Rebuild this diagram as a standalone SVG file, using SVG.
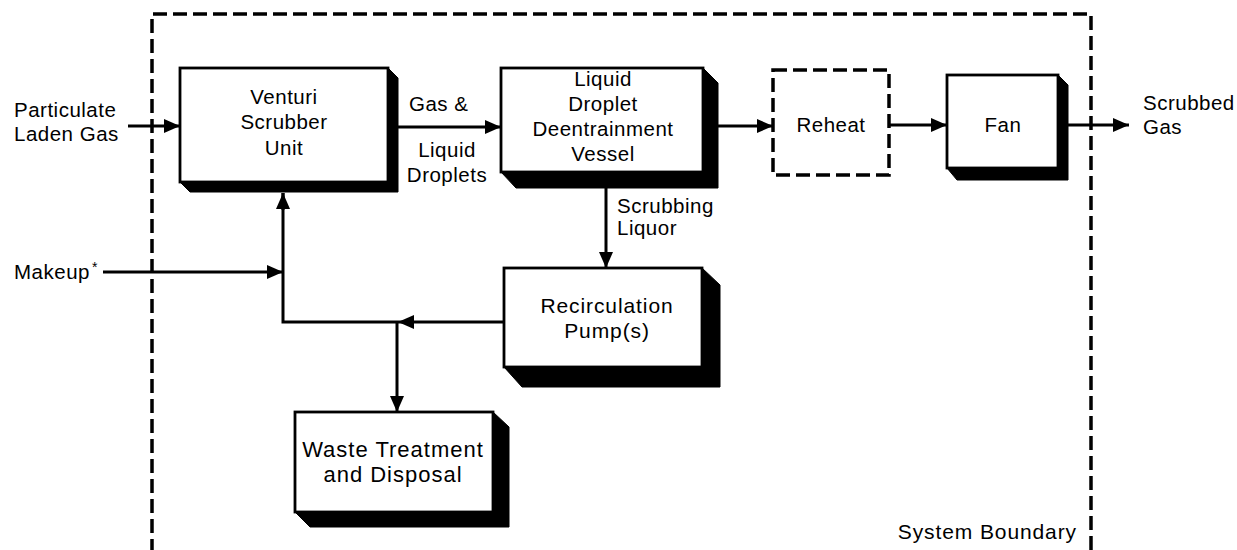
<svg xmlns="http://www.w3.org/2000/svg" width="1237" height="550" viewBox="0 0 1237 550">
  <style>
    text { font-family: "Liberation Sans", Arial, sans-serif; font-size: 20.5px; fill: #000; letter-spacing: 0.5px; }
    .c { text-anchor: middle; }
    .big { font-size: 21px; letter-spacing: 0.9px; }
    .bigger { font-size: 22px; letter-spacing: 1px; }
    .face { fill: #fff; stroke: #000; stroke-width: 2.8; }
    .shadow { fill: #000; stroke: #000; stroke-width: 1; stroke-linejoin: round; }
    .flow { fill: none; stroke: #000; stroke-width: 3; }
    .dash { fill: none; stroke: #000; stroke-width: 3.5; stroke-dasharray: 14 6; }
  </style>
  <defs>
    <marker id="arrow" markerUnits="userSpaceOnUse" markerWidth="16" markerHeight="16" viewBox="0 0 16 16" refX="16" refY="8" orient="auto">
      <path d="M0,1 L16,8 L0,15 Z" fill="#000"/>
    </marker>
  </defs>

  <rect width="1237" height="550" fill="#fff"/>

  <!-- system boundary -->
  <g id="boundary">
    <path class="dash" d="M152,553 L152,14 L1091,14 L1091,553"/>
    <text x="1077" y="539" text-anchor="end" class="big">System Boundary</text>
  </g>

  <!-- connectors -->
  <g id="connectors">
    <line class="flow" x1="128" y1="126" x2="180" y2="126" marker-end="url(#arrow)"/>
    <line class="flow" x1="398" y1="127" x2="501" y2="127" marker-end="url(#arrow)"/>
    <line class="flow" x1="718" y1="126" x2="773" y2="126" marker-end="url(#arrow)"/>
    <line class="flow" x1="889" y1="125" x2="947" y2="125" marker-end="url(#arrow)"/>
    <line class="flow" x1="1068" y1="125" x2="1129" y2="125" marker-end="url(#arrow)"/>
    <line class="flow" x1="606" y1="188" x2="606" y2="268" marker-end="url(#arrow)"/>
    <line class="flow" x1="504" y1="322" x2="398" y2="322" marker-end="url(#arrow)"/>
    <path class="flow" d="M398,322 L283,322 L283,193"/>
    <line class="flow" x1="283" y1="210" x2="283" y2="193" marker-end="url(#arrow)"/>
    <line class="flow" x1="103" y1="272" x2="283" y2="272" marker-end="url(#arrow)"/>
    <line class="flow" x1="397" y1="322" x2="397" y2="412" marker-end="url(#arrow)"/>
  </g>

  <!-- stream labels -->
  <g id="labels">
    <text x="14" y="117">Particulate</text>
    <text x="14" y="141">Laden Gas</text>
    <text x="409" y="111">Gas &amp;</text>
    <text x="447" y="157" class="c">Liquid</text>
    <text x="447" y="182" class="c">Droplets</text>
    <text x="1143" y="110">Scrubbed</text>
    <text x="1143" y="134">Gas</text>
    <text x="14" y="279">Makeup<tspan font-size="14" dy="-7" dx="2">*</tspan></text>
    <text x="617" y="213">Scrubbing</text>
    <text x="617" y="235">Liquor</text>
  </g>

  <g id="venturi">
    <polygon class="shadow" points="388,68 398,78 398,192 190,192 180,182"/>
    <rect class="face" x="180" y="68" width="208" height="114"/>
    <text x="284" y="104" class="c">Venturi</text>
    <text x="284" y="129" class="c">Scrubber</text>
    <text x="284" y="155" class="c">Unit</text>
  </g>

  <g id="deentrainment">
    <polygon class="shadow" points="703,68 718,83 718,188 516,188 501,172"/>
    <rect class="face" x="501" y="68" width="202" height="104"/>
    <text x="603" y="86" class="c">Liquid</text>
    <text x="603" y="111" class="c">Droplet</text>
    <text x="603" y="136" class="c">Deentrainment</text>
    <text x="603" y="161" class="c">Vessel</text>
  </g>

  <g id="reheat">
    <rect class="dash" x="773" y="70" width="116" height="105"/>
    <text x="831" y="132" class="c">Reheat</text>
  </g>

  <g id="fan">
    <polygon class="shadow" points="1058,75 1068,85 1068,180 957,180 947,168"/>
    <rect class="face" x="947" y="75" width="111" height="93"/>
    <text x="1003" y="132" class="c">Fan</text>
  </g>

  <g id="pump">
    <polygon class="shadow" points="702,268 720,285 720,387 522,387 504,367"/>
    <rect class="face" x="504" y="268" width="198" height="99"/>
    <text x="607" y="313" class="c big">Recirculation</text>
    <text x="607" y="338" class="c big">Pump(s)</text>
  </g>

  <g id="waste">
    <polygon class="shadow" points="493,412 509,427 509,527 310,527 295,512"/>
    <rect class="face" x="295" y="412" width="198" height="100"/>
    <text x="393" y="457" class="c bigger">Waste Treatment</text>
    <text x="393" y="482" class="c bigger">and Disposal</text>
  </g>
</svg>
